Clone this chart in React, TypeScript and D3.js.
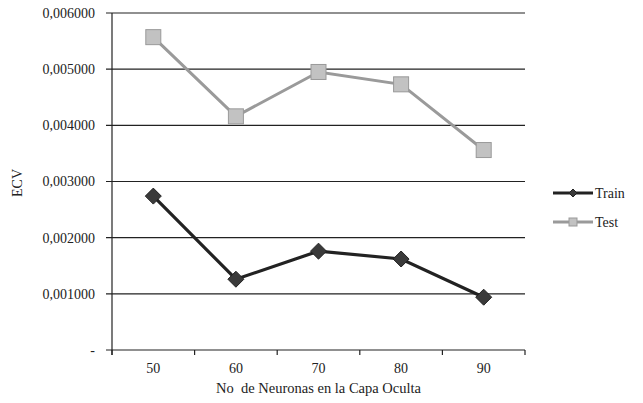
import React from "react";
import * as d3 from "d3";

const categories = ["50", "60", "70", "80", "90"];
const trainValues = [0.00274, 0.00126, 0.00176, 0.00162, 0.00094];
const testValues = [0.00557, 0.00416, 0.00495, 0.00473, 0.00356];
const yTicks = [0, 0.001, 0.002, 0.003, 0.004, 0.005, 0.006];
const seriesNames = ["Train", "Test"];

const W = 643, H = 403;
const left = 112, right = 525, top = 13, bottom = 350;

export default function App() {
  const x = d3.scaleBand().domain(categories).range([left, right]);
  const y = d3.scaleLinear().domain([0, 0.006]).range([bottom, top]);
  const fmt = (v: number) => (v === 0 ? "-" : v.toFixed(6).replace(".", ","));
  const cx = (c: string) => (x(c) as number) + x.bandwidth() / 2;
  const line = d3.line<number>().x((_, i) => cx(categories[i])).y((d) => y(d));
  const boundaries = [...categories.map((c) => x(c) as number), right];
  const ts = { fontFamily: "'Liberation Serif'", fontSize: "14px", fill: "#222" } as React.CSSProperties;

  return (
    <svg width={W} height={H} style={{ position: "absolute", left: 0, top: 0, background: "#fff" }}>
      <rect width={W} height={H} fill="#fff" />
      {yTicks.map((t) => (
        <g key={t}>
          <line x1={left - 6} x2={right} y1={y(t)} y2={y(t)} stroke="#222" strokeWidth={1.2} />
          <text x={95} y={y(t)} dy="0.35em" textAnchor="end" style={ts}>
            {fmt(t)}
          </text>
        </g>
      ))}
      <line x1={left} x2={left} y1={top} y2={bottom + 5} stroke="#222" strokeWidth={1.2} />
      {boundaries.map((b, i) => (
        <line key={i} x1={b} x2={b} y1={bottom} y2={bottom + 5} stroke="#222" strokeWidth={1.2} />
      ))}
      {categories.map((c) => (
        <text key={c} x={cx(c)} y={bottom + 23} textAnchor="middle" style={ts}>
          {c}
        </text>
      ))}
      <text x={(left + right) / 2} y={393} textAnchor="middle" style={{ ...ts, fontSize: "14.5px" }}>
        No{"\u00a0\u00a0"}de Neuronas en la Capa Oculta
      </text>
      <text transform={`translate(22,183) rotate(-90)`} textAnchor="middle" style={ts}>
        ECV
      </text>
      <path d={line(testValues) as string} fill="none" stroke="#9a9a9a" strokeWidth={3} />
      {testValues.map((v, i) => (
        <rect key={i} x={cx(categories[i]) - 7.5} y={y(v) - 7.5} width={15} height={15} fill="#c2c2c2" stroke="#999" strokeWidth={1} />
      ))}
      <path d={line(trainValues) as string} fill="none" stroke="#222" strokeWidth={3.2} />
      {trainValues.map((v, i) => (
        <path key={i} d={`M0,-8L8,0L0,8L-8,0Z`} transform={`translate(${cx(categories[i])},${y(v)})`} fill="#3a3a3a" stroke="#222" strokeWidth={1} />
      ))}
      <g>
        <line x1={553} x2={593} y1={193} y2={193} stroke="#222" strokeWidth={3} />
        <path d="M0,-4L4,0L0,4L-4,0Z" transform="translate(573,193)" fill="#3a3a3a" stroke="#222" />
        <text x={595} y={193} dy="0.35em" style={ts}>{seriesNames[0]}</text>
        <line x1={553} x2={593} y1={222} y2={222} stroke="#9a9a9a" strokeWidth={3} />
        <rect x={569} y={218} width={8} height={8} fill="#c2c2c2" stroke="#999" />
        <text x={595} y={222} dy="0.35em" style={ts}>{seriesNames[1]}</text>
      </g>
    </svg>
  );
}
